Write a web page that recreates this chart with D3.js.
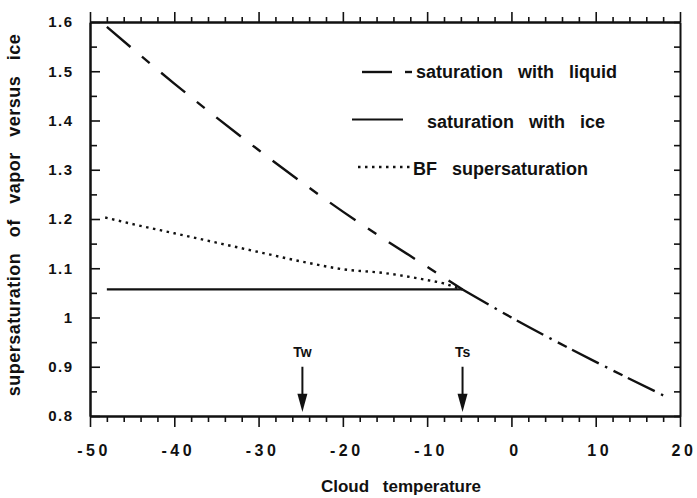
<!DOCTYPE html>
<html>
<head>
<meta charset="utf-8">
<script src="https://cdn.jsdelivr.net/npm/d3@7"></script>
<style>
  html, body { margin: 0; padding: 0; background: #fff; }
  svg { display: block; font-family: "Liberation Sans", Arial, Helvetica, sans-serif; }
</style>
</head>
<body>
<svg id="chart" width="697" height="498"></svg>
<script>
// ---------- data ----------
const xTickValues = [-50, -40, -30, -20, -10, 0, 10, 20];
const xTickLabels = ["-50", "-40", "-30", "-20", "-10", "0", "10", "20"];
const yTickValues = [0.8, 0.9, 1.0, 1.1, 1.2, 1.3, 1.4, 1.5, 1.6];
const yTickLabels = ["0.8", "0.9", "1", "1.1", "1.2", "1.3", "1.4", "1.5", "1.6"];

// saturation with liquid (ratio of vapour pressure over liquid vs ice)
const liquidT = [-48, -40, -30, -20, -10, -5.8];
const liquidV = [1.59, 1.475, 1.34, 1.215, 1.103, 1.057];
// continuation beyond Ts
const warmT = [-5.8, 0, 10, 18];
const warmV = [1.057, 1.0, 0.91, 0.842];
// saturation with ice (constant supersaturation up to Ts)
const iceT = [-48, -5.8];
const iceV = [1.057, 1.057];
// Bergeron-Findeisen supersaturation
const bfT = [-48.2, -45, -40, -35, -30, -25, -20, -15, -10, -8, -6.9, -5.8];
const bfV = [1.203, 1.190, 1.171, 1.152, 1.133, 1.114, 1.098, 1.090, 1.076, 1.069, 1.063, 1.057];

const markerLabels = ["Tw", "Ts"];
const markerT = [-24.8, -5.8];

const legendLabels = ["saturation with liquid", "saturation with ice", "BF supersaturation"];
const xTitle = "Cloud temperature";
const yTitle = "supersaturation of vapor versus ice";

// ---------- layout ----------
const svg = d3.select("#chart");
const X0 = 90, X1 = 680, Y0 = 22, Y1 = 416;
const x = d3.scaleLinear().domain([-50, 20]).range([X0, X1]);
const y = d3.scaleLinear().domain([0.8, 1.6]).range([Y1, Y0]);
const ink = "#111";

const xMinor = d3.range(-50, 20.001, 2).filter(v => Math.abs(v % 10) > 1e-6);
const yMinor = d3.range(0.85, 1.6, 0.1).map(v => +v.toFixed(2));

function styleAxis(g) {
  g.select(".domain").attr("stroke", ink).attr("stroke-width", 2);
  g.selectAll(".tick line").attr("stroke", ink).attr("stroke-width", 1.6);
}

// bottom axis (ticks outward)
svg.append("g").attr("transform", `translate(0,${Y1})`)
  .call(d3.axisBottom(x).tickValues(xMinor).tickSize(6).tickSizeOuter(0).tickFormat(""))
  .call(styleAxis);
const gx = svg.append("g").attr("transform", `translate(0,${Y1})`)
  .call(d3.axisBottom(x).tickValues(xTickValues).tickSize(11).tickSizeOuter(0)
    .tickPadding(18).tickFormat((d, i) => xTickLabels[i]))
  .call(styleAxis);
gx.selectAll("text").attr("fill", ink).style("font-size", "16px").style("font-weight", "bold")
  .style("letter-spacing", "3.5px").attr("dx", "3.5px");

// top axis (ticks outward)
svg.append("g").attr("transform", `translate(0,${Y0})`)
  .call(d3.axisTop(x).tickValues(xMinor).tickSize(5).tickSizeOuter(0).tickFormat(""))
  .call(styleAxis);
svg.append("g").attr("transform", `translate(0,${Y0})`)
  .call(d3.axisTop(x).tickValues(xTickValues).tickSize(10).tickSizeOuter(0).tickFormat(""))
  .call(styleAxis);

// left axis (ticks inward)
svg.append("g").attr("transform", `translate(${X0},0)`)
  .call(d3.axisLeft(y).tickValues(yMinor).tickSize(-7).tickSizeOuter(0).tickFormat(""))
  .call(styleAxis);
const gy = svg.append("g").attr("transform", `translate(${X0},0)`)
  .call(d3.axisLeft(y).tickValues(yTickValues).tickSize(-10).tickSizeOuter(0)
    .tickPadding(18).tickFormat((d, i) => yTickLabels[i]))
  .call(styleAxis);
gy.selectAll("text").attr("fill", ink).style("font-size", "15px").style("font-weight", "bold")
  .style("letter-spacing", "1.5px").attr("dx", "1.5px");

// right axis (ticks inward)
svg.append("g").attr("transform", `translate(${X1},0)`)
  .call(d3.axisRight(y).tickValues(yMinor.concat(yTickValues)).tickSize(-6).tickSizeOuter(0).tickFormat(""))
  .call(styleAxis);

// ---------- lines ----------
const line = (T, V) => d3.line().x((d, i) => x(T[i])).y((d, i) => y(V[i])).curve(d3.curveMonotoneX)(T);

svg.append("path").attr("d", line(liquidT, liquidV)).attr("fill", "none")
  .attr("stroke", ink).attr("stroke-width", 2.4).attr("stroke-dasharray", "31,15,10,15");
svg.append("path").attr("d", line(warmT, warmV)).attr("fill", "none")
  .attr("stroke", ink).attr("stroke-width", 2.4).attr("stroke-dasharray", "30,7,2.5,7,10,6");
svg.append("path").attr("d", line(iceT, iceV)).attr("fill", "none")
  .attr("stroke", ink).attr("stroke-width", 2.2);
svg.append("path").attr("d", line(bfT, bfV)).attr("fill", "none")
  .attr("stroke", ink).attr("stroke-width", 2.4).attr("stroke-dasharray", "2.5,4.5");

// ---------- markers (Tw, Ts) ----------
markerT.forEach((t, i) => {
  const cx = x(t);
  const yTop = y(0.9), yHead = y(0.845), yTip = y(0.808);
  svg.append("line").attr("x1", cx).attr("x2", cx).attr("y1", yTop).attr("y2", yHead + 2)
    .attr("stroke", ink).attr("stroke-width", 2);
  svg.append("path").attr("d", `M${cx - 5},${yHead}L${cx + 5},${yHead}L${cx},${yTip}Z`).attr("fill", ink);
  svg.append("text").attr("x", cx).attr("y", y(0.9) - 10).attr("text-anchor", "middle")
    .attr("fill", ink).style("font-size", "14px").style("font-weight", "bold").text(markerLabels[i]);
});

// ---------- legend ----------
const lg = svg.append("g");
// liquid
lg.append("line").attr("x1", 362).attr("x2", 392).attr("y1", 72).attr("y2", 72).attr("stroke", ink).attr("stroke-width", 2.4);
lg.append("line").attr("x1", 405).attr("x2", 412).attr("y1", 72).attr("y2", 72).attr("stroke", ink).attr("stroke-width", 2.4);
// ice
lg.append("line").attr("x1", 352).attr("x2", 403).attr("y1", 119.5).attr("y2", 119.5).attr("stroke", ink).attr("stroke-width", 2.2);
// BF
lg.append("line").attr("x1", 358).attr("x2", 410).attr("y1", 167).attr("y2", 167).attr("stroke", ink)
  .attr("stroke-width", 2.4).attr("stroke-dasharray", "2.5,4.5");
const legendPos = [[416, 78], [427, 128], [413, 175]];
legendLabels.forEach((s, i) => {
  lg.append("text").attr("x", legendPos[i][0]).attr("y", legendPos[i][1]).attr("fill", ink)
    .style("font-size", "18px").style("font-weight", "bold").style("word-spacing", "10px").text(s);
});

// ---------- titles ----------
svg.append("text").attr("x", 401).attr("y", 492).attr("text-anchor", "middle").attr("fill", ink)
  .style("font-size", "17px").style("font-weight", "bold").style("word-spacing", "9px").text(xTitle);
svg.append("text").attr("transform", "translate(20,215) rotate(-90)").attr("text-anchor", "middle").attr("fill", ink)
  .style("font-size", "18px").style("font-weight", "bold").style("letter-spacing", "0.5px")
  .style("word-spacing", "10px").text(yTitle);
</script>
</body>
</html>
